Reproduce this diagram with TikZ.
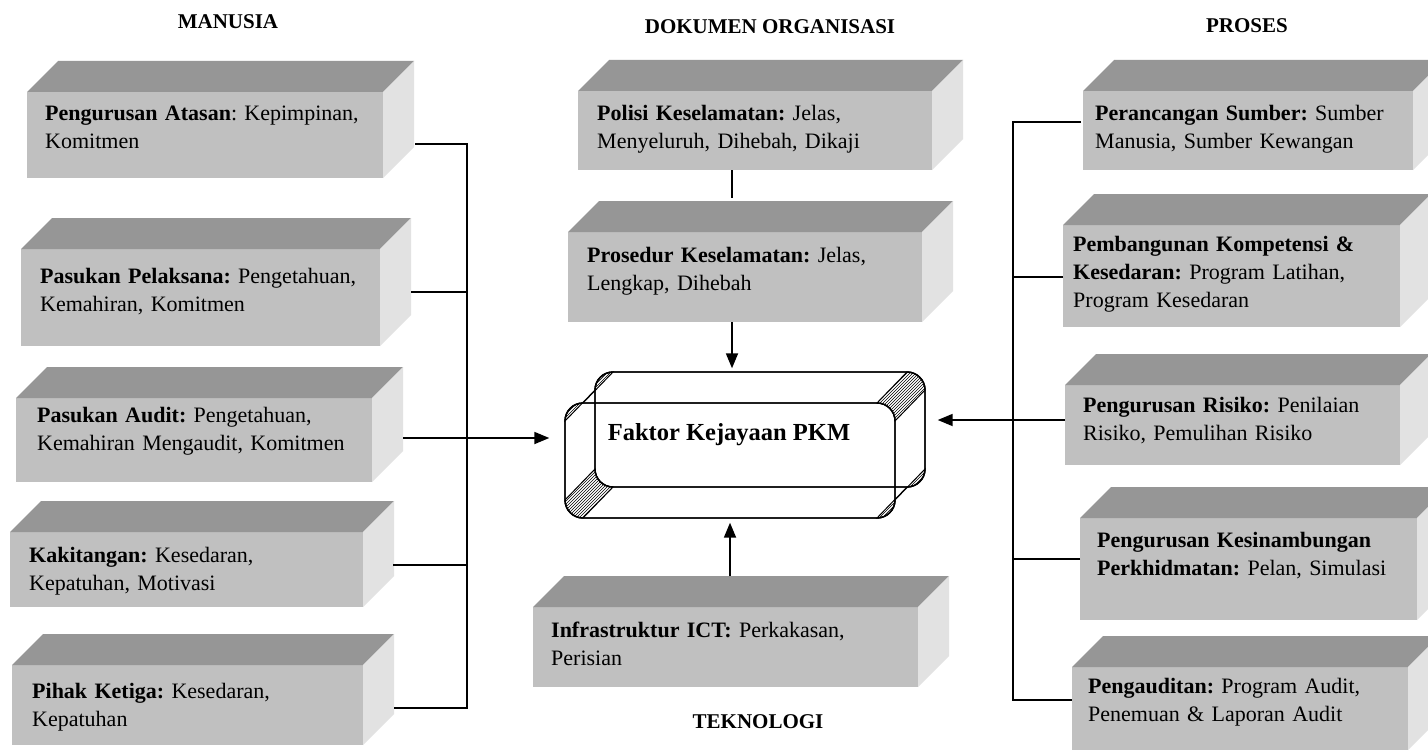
\documentclass[tikz,border=0pt]{standalone}
\usepackage{fontspec}
\setmainfont{Liberation Serif}
\usetikzlibrary{arrows.meta,patterns}
\frenchspacing

\definecolor{facefront}{HTML}{C0C0C0}
\definecolor{facetop}{HTML}{969696}
\definecolor{faceside}{HTML}{E2E2E2}

\tikzset{
  front/.style={fill=facefront, draw=none, inner sep=0pt, outer sep=0pt, anchor=north west},
  txt/.style={anchor=base west, align=left, inner sep=0pt, text width=420pt,
              font=\fontsize{22}{28}\selectfont},
  head/.style={font=\fontsize{21}{24}\selectfont\bfseries, inner sep=0pt},
  wire/.style={line width=1.8pt},
  arr/.style={wire, -{Triangle[length=15pt,width=12pt]}},
  rim/.style={draw, line width=1.4pt, rounded corners=18pt, minimum width=330pt,
              minimum height=115pt, inner sep=0pt},
  band/.style={pattern=north east lines, draw, line width=1pt},
}

% a bevelled slab: front face node plus its top and side faces
\newcommand\slab[5]{%
  \node[front, minimum width={#4-#2}, minimum height={#5-#3}] (#1) at (#2,#3) {};
  \fill[facetop] (#1.north west) -- ++(31,-31) -- ([shift={(31,-31)}]#1.north east)
       -- (#1.north east) -- cycle;
  \fill[faceside] (#1.north east) -- ++(31,-31) -- ([shift={(31,-31)}]#1.south east)
       -- (#1.south east) -- cycle;
}

\begin{document}
\begin{tikzpicture}[x=1pt,y=-1pt]
\clip (0,0) rectangle (1428,752);
\fill[white] (0,0) rectangle (1428,752);

% column headings
\node[head] (hm) at (228,22) {MANUSIA};
\node[head] (hd) at (770,27) {DOKUMEN ORGANISASI};
\node[head] (hp) at (1247,26) {PROSES};
\node[head] (ht) at (758,722) {TEKNOLOGI};

% left column: people
\slab{l1}{27}{92}{383}{178}
\slab{l2}{21}{249}{380}{346}
\slab{l3}{16}{398}{372}{482}
\slab{l4}{10}{532}{363}{607}
\slab{l5}{12}{665}{363}{745}
\node[txt] (l1t) at (45,121) {\textbf{Pengurusan Atasan}: Kepimpinan,\\Komitmen};
\node[txt] (l2t) at (40,283) {\textbf{Pasukan Pelaksana:} Pengetahuan,\\Kemahiran, Komitmen};
\node[txt] (l3t) at (37,422) {\textbf{Pasukan Audit:} Pengetahuan,\\Kemahiran Mengaudit, Komitmen};
\node[txt] (l4t) at (29,562) {\textbf{Kakitangan:} Kesedaran,\\Kepatuhan, Motivasi};
\node[txt] (l5t) at (32,698) {\textbf{Pihak Ketiga:} Kesedaran,\\Kepatuhan};

% middle column: documents and technology
\slab{pol}{578}{91}{932}{170}
\slab{pro}{568}{232}{922}{322}
\slab{ict}{533}{607}{918}{687}
\node[txt] (polt) at (597,121) {\textbf{Polisi Keselamatan:} Jelas,\\Menyeluruh, Dihebah, Dikaji};
\node[txt] (prot) at (587,262) {\textbf{Prosedur Keselamatan:} Jelas,\\Lengkap, Dihebah};
\node[txt] (ictt) at (551,637) {\textbf{Infrastruktur ICT:} Perkakasan,\\Perisian};

% right column: processes
\slab{r1}{1083}{91}{1413}{170}
\slab{r2}{1063}{225}{1400}{327}
\slab{r3}{1065}{385}{1400}{465}
\slab{r4}{1080}{518}{1417}{620}
\slab{r5}{1072}{667}{1408}{750}
\node[txt] (r1t) at (1095,121) {\textbf{Perancangan Sumber:} Sumber\\Manusia, Sumber Kewangan};
\node[txt] (r2t) at (1073,251) {\textbf{Pembangunan Kompetensi \&}\\\textbf{Kesedaran:} Program Latihan,\\Program Kesedaran};
\node[txt] (r3t) at (1083,412) {\textbf{Pengurusan Risiko:} Penilaian\\Risiko, Pemulihan Risiko};
\node[txt] (r4t) at (1097,547) {\textbf{Pengurusan Kesinambungan}\\\textbf{Perkhidmatan:} Pelan, Simulasi};
\node[txt] (r5t) at (1088,693) {\textbf{Pengauditan:} Program Audit,\\Penemuan \& Laporan Audit};

% central bevelled frame
\node[rim] (pkmb) at (760,429.5) {};
\node[rim] (pkmf) at (730,460.5) {};
\filldraw[band] (907,372) .. controls (916.94,372) and (925,380.06) .. (925,390)
   -- (895,421) .. controls (895,411.06) and (886.94,403) .. (877,403) -- cycle;
\filldraw[band] (613,487) .. controls (603.06,487) and (595,478.94) .. (595,469)
   -- (565,500) .. controls (565,509.94) and (573.06,518) .. (583,518) -- cycle;
\filldraw[band] (595,390) .. controls (595,380.06) and (603.06,372) .. (613,372)
   -- (583,403) .. controls (573.06,403) and (565,411.06) .. (565,421) -- cycle;
\filldraw[band] (925,469) .. controls (925,478.94) and (916.94,487) .. (907,487)
   -- (877,518) .. controls (886.94,518) and (895,509.94) .. (895,500) -- cycle;
\node[rim] at (pkmb) {};
\node[rim] at (pkmf) {};
\node[font=\fontsize{24.5}{28}\selectfont\bfseries, inner sep=0pt] (pkm) at (729,435) {Faktor Kejayaan PKM};

% connector end points
\coordinate (l1o) at (415,144);
\coordinate (l2o) at (411,292);
\coordinate (l3o) at (403,438);
\coordinate (l4o) at (393,565);
\coordinate (l5o) at (394,708);
\coordinate (busL) at (467,0);
\coordinate (r1i) at (1081,122);
\coordinate (r2i) at (1063,277);
\coordinate (r3i) at (1065,420);
\coordinate (r4i) at (1080,559);
\coordinate (r5i) at (1072,700);
\coordinate (busR) at (1013,0);
\coordinate (polb) at (732,170);
\coordinate (prot1) at (732,198);
\coordinate (prob) at (732,322);
\coordinate (ictb) at (730,576);

% people bus
\draw[wire] (l1o) -- (l1o -| busL) -- (l5o -| busL) -- (l5o);
\draw[wire] (l2o) -- (l2o -| busL);
\draw[wire] (l4o) -- (l4o -| busL);
\draw[arr] (l3o) -- ([xshift=-15pt]pkmf.west |- l3o);

% process bus
\draw[wire] (r1i) -- (r1i -| busR) -- (r5i -| busR) -- (r5i);
\draw[wire] (r2i) -- (r2i -| busR);
\draw[wire] (r4i) -- (r4i -| busR);
\draw[arr] (r3i) -- ([xshift=12pt]pkmb.east |- r3i);

% documents and technology
\draw[wire] (polb) -- (prot1);
\draw[arr] (prob) -- ([yshift=3pt]pkmb.north -| prob);
\draw[arr] (ictb) -- ([yshift=-4pt]pkmf.south -| ictb);
\end{tikzpicture}
\end{document}
